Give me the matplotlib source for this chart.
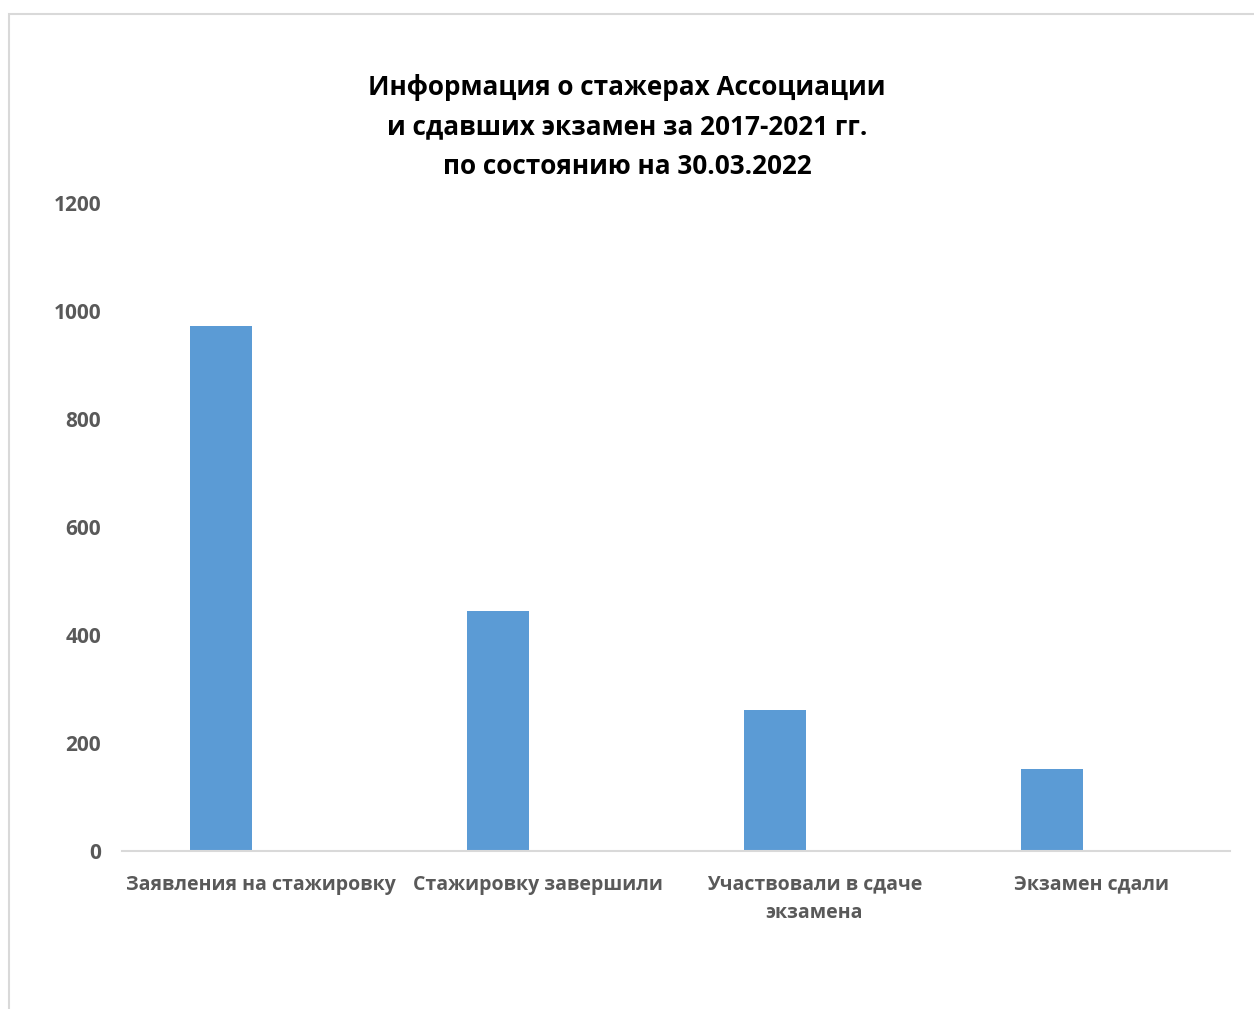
import matplotlib.pyplot as plt
from matplotlib.patches import Rectangle
import numpy as np

categories = ['Заявления на стажировку', 'Стажировку завершили',
              'Участвовали в сдаче\nэкзамена', 'Экзамен сдали']
values = [972, 444, 262, 152]
yticks = [0, 200, 400, 600, 800, 1000, 1200]
title = ('Информация о стажерах Ассоциации\n'
         'и сдавших экзамен за 2017-2021 гг.\n'
         'по состоянию на 30.03.2022')

plt.rcParams['font.family'] = ['Open Sans', 'DejaVu Sans']

fig = plt.figure(figsize=(12.54, 10.09), dpi=100)
fig.patches.append(Rectangle((9 / 1254, -0.1), 1.2, 1 - 14 / 1009 + 0.1,
                             transform=fig.transFigure, fill=False,
                             edgecolor='#D9D9D9', linewidth=1.5))

ax = fig.add_axes([122 / 1254, 1 - 851 / 1009, (1230 - 122) / 1254, (851 - 203) / 1009])
x = np.arange(len(categories))
ax.bar(x - 0.141, values, width=0.224, color='#5B9BD5')

ax.set_xlim(-0.5, len(categories) - 0.5)
ax.set_ylim(0, 1200)
ax.set_yticks(yticks)
ax.set_yticklabels([str(t) for t in yticks], fontsize=15, fontweight='bold', color='#595959')
ax.set_xticks(x)
ax.set_xticklabels(categories, fontsize=14, fontweight='bold', color='#595959',
                   linespacing=1.55)
ax.tick_params(axis='both', length=0)
ax.tick_params(axis='y', pad=15)
ax.tick_params(axis='x', pad=17)
for s in ['top', 'right', 'left']:
    ax.spines[s].set_visible(False)
ax.spines['bottom'].set_color('#D9D9D9')
ax.spines['bottom'].set_linewidth(1.5)

fig.text(0.5, 1 - 127 / 1009, title, ha='center', va='center', fontsize=18.8,
         fontweight='bold', color='black', linespacing=1.59)

fig.savefig('out.png', dpi=100, facecolor='white')
